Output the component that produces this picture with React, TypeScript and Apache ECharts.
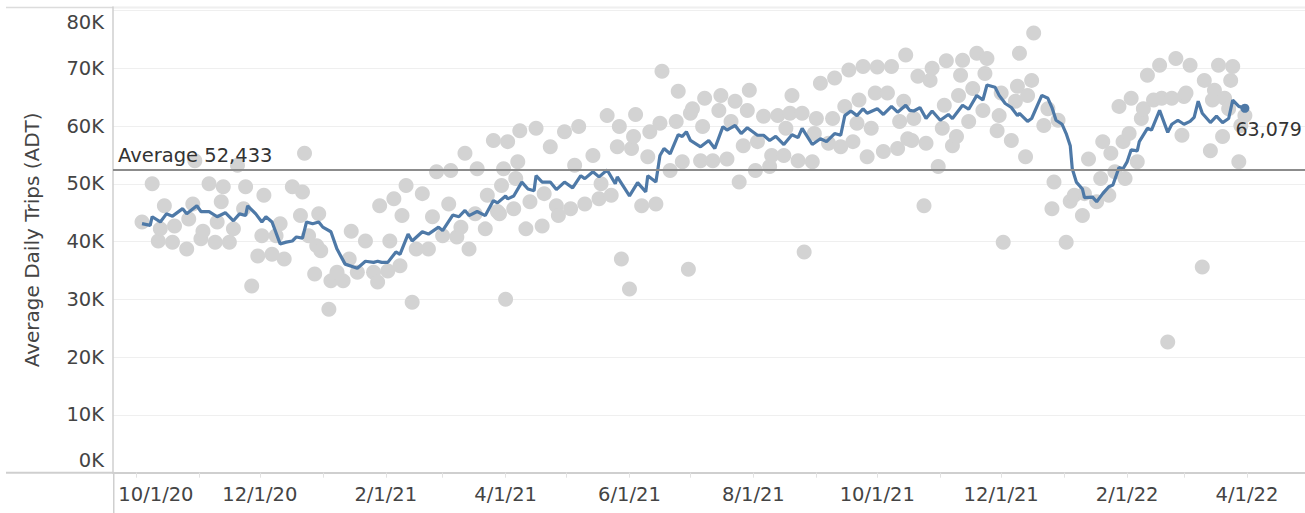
import React, { useEffect, useRef } from "react";
import * as echarts from "echarts";

// Blue line: rolling average of daily trips
const lineDates = [
  "2020-10-04","2020-10-08","2020-10-09","2020-10-13","2020-10-16","2020-10-19","2020-10-24","2020-10-26","2020-10-31",
  "2020-11-02","2020-11-06","2020-11-10","2020-11-14","2020-11-18","2020-11-21","2020-11-24","2020-11-25","2020-11-29",
  "2020-12-02","2020-12-04","2020-12-07","2020-12-11","2020-12-14","2020-12-17","2020-12-19","2020-12-22","2020-12-24","2020-12-27","2020-12-30",
  "2021-01-01","2021-01-05","2021-01-08","2021-01-12","2021-01-18","2021-01-22","2021-01-26","2021-01-28","2021-01-30",
  "2021-02-02","2021-02-06","2021-02-08","2021-02-12","2021-02-14","2021-02-19","2021-02-22","2021-02-27",
  "2021-03-01","2021-03-06","2021-03-09","2021-03-12","2021-03-14","2021-03-18","2021-03-22","2021-03-26","2021-03-28",
  "2021-04-01","2021-04-02","2021-04-05","2021-04-09","2021-04-12","2021-04-15","2021-04-16","2021-04-19","2021-04-23","2021-04-26","2021-04-30",
  "2021-05-04","2021-05-08","2021-05-10","2021-05-14","2021-05-17","2021-05-21","2021-05-25","2021-05-26",
  "2021-06-01","2021-06-05","2021-06-09","2021-06-10","2021-06-14","2021-06-16","2021-06-18","2021-06-21","2021-06-25","2021-06-27","2021-06-29",
  "2021-07-01","2021-07-06","2021-07-10","2021-07-13","2021-07-17","2021-07-19","2021-07-23","2021-07-26","2021-07-29",
  "2021-08-03","2021-08-06","2021-08-09","2021-08-12","2021-08-16","2021-08-20","2021-08-23","2021-08-25","2021-08-30",
  "2021-09-03","2021-09-06","2021-09-10","2021-09-13","2021-09-15","2021-09-18","2021-09-21","2021-09-24","2021-09-26",
  "2021-10-01","2021-10-04","2021-10-08","2021-10-11","2021-10-15","2021-10-17","2021-10-19","2021-10-22","2021-10-25","2021-10-28",
  "2021-11-01","2021-11-05","2021-11-07","2021-11-12","2021-11-15","2021-11-19","2021-11-22","2021-11-24","2021-11-28","2021-11-30",
  "2021-12-03","2021-12-06","2021-12-09","2021-12-10","2021-12-14","2021-12-16","2021-12-21","2021-12-24","2021-12-26","2021-12-28","2021-12-31",
  "2022-01-02","2022-01-04","2022-01-05","2022-01-07","2022-01-10","2022-01-11","2022-01-15","2022-01-17","2022-01-20","2022-01-23","2022-01-25","2022-01-28","2022-01-30",
  "2022-02-01","2022-02-03","2022-02-06","2022-02-07","2022-02-11","2022-02-13","2022-02-17","2022-02-21","2022-02-23","2022-02-26",
  "2022-03-01","2022-03-04","2022-03-06","2022-03-08","2022-03-10","2022-03-14","2022-03-17","2022-03-20","2022-03-23","2022-03-25","2022-03-28","2022-03-31",
];
const lineValues = [
  43100,42800,44300,43400,44800,44400,45700,44800,46200,
  45200,45200,44300,45000,43600,44800,44500,46200,44800,
  43400,44300,43400,39600,39900,40100,40800,40600,43400,43100,43400,
  42500,41700,38700,36100,35400,36600,36400,36600,36400,
  36400,38200,37800,41300,40100,41700,41300,42500,
  41900,44600,44300,45400,44500,45200,44500,47100,46700,
  47900,47400,47900,50300,49100,48800,51400,50300,50300,49000,50300,
  49300,51400,50900,52100,51200,52400,50000,51200,
  47900,50200,48600,51400,50300,54900,56100,55200,58500,58200,59000,
  57500,56400,57500,56100,59900,59300,60100,58700,59700,
  58400,58400,57500,58200,56800,58500,58000,59600,56800,
  57800,57300,58700,58400,61800,62600,61800,63000,62200,
  63000,62000,63400,62400,63600,62700,62600,63200,61300,62600,
  61000,62000,61300,63600,62900,65300,64500,67100,66700,65300,
  63900,63200,61800,62200,60800,61300,65300,64800,63200,61000,60300,
  58700,56600,52600,50300,49100,47600,47700,46900,48300,49500,49800,52800,52600,
  53800,55900,55700,57300,59600,59300,62700,58900,60300,61000,
  60300,60800,61500,64300,62200,60600,61700,60600,61300,64500,63400,63079,
];

// Grey dots: daily trips
const dotDates = [
  "2020-10-04","2020-10-09","2020-10-12","2020-10-13","2020-10-15","2020-10-19","2020-10-20","2020-10-26","2020-10-27","2020-10-29","2020-10-30",
  "2020-11-02","2020-11-03","2020-11-06","2020-11-09","2020-11-10","2020-11-12","2020-11-13","2020-11-16","2020-11-18","2020-11-20","2020-11-23","2020-11-24","2020-11-27","2020-11-30",
  "2020-12-02","2020-12-03","2020-12-07","2020-12-09","2020-12-11","2020-12-13","2020-12-17","2020-12-21","2020-12-22","2020-12-23","2020-12-25","2020-12-28","2020-12-29","2020-12-30","2020-12-31",
  "2021-01-04","2021-01-05","2021-01-08","2021-01-11","2021-01-14","2021-01-15","2021-01-18","2021-01-22","2021-01-26","2021-01-28","2021-01-29",
  "2021-02-02","2021-02-03","2021-02-05","2021-02-08","2021-02-09","2021-02-11","2021-02-14","2021-02-16","2021-02-19","2021-02-22","2021-02-24","2021-02-26",
  "2021-03-01","2021-03-04","2021-03-05","2021-03-08","2021-03-10","2021-03-12","2021-03-14","2021-03-17","2021-03-18","2021-03-22","2021-03-23","2021-03-26","2021-03-28","2021-03-29","2021-03-30","2021-03-31",
  "2021-04-01","2021-04-02","2021-04-05","2021-04-06","2021-04-07","2021-04-08","2021-04-11","2021-04-13","2021-04-16","2021-04-19","2021-04-20","2021-04-23","2021-04-26","2021-04-27","2021-04-30",
  "2021-05-03","2021-05-05","2021-05-07","2021-05-10","2021-05-14","2021-05-17","2021-05-18","2021-05-21","2021-05-23","2021-05-26","2021-05-27","2021-05-28",
  "2021-06-01","2021-06-02","2021-06-03","2021-06-04","2021-06-07","2021-06-10","2021-06-11","2021-06-14","2021-06-16","2021-06-17","2021-06-21","2021-06-24","2021-06-25","2021-06-27","2021-06-30",
  "2021-07-01","2021-07-02","2021-07-06","2021-07-07","2021-07-08","2021-07-12","2021-07-15","2021-07-16","2021-07-19","2021-07-21","2021-07-23","2021-07-25","2021-07-27","2021-07-29","2021-07-30",
  "2021-08-02","2021-08-03","2021-08-06","2021-08-09","2021-08-10","2021-08-13","2021-08-16","2021-08-17","2021-08-19","2021-08-20","2021-08-23","2021-08-25","2021-08-26","2021-08-30","2021-08-31",
  "2021-09-01","2021-09-03","2021-09-07","2021-09-09","2021-09-10","2021-09-13","2021-09-15","2021-09-17","2021-09-19","2021-09-21","2021-09-22","2021-09-24","2021-09-26","2021-09-28","2021-09-30",
  "2021-10-01","2021-10-04","2021-10-06","2021-10-08","2021-10-11","2021-10-12","2021-10-14","2021-10-15","2021-10-16","2021-10-18","2021-10-19","2021-10-21","2021-10-24","2021-10-25","2021-10-27","2021-10-28","2021-10-31",
  "2021-11-02","2021-11-03","2021-11-04","2021-11-07","2021-11-09","2021-11-10","2021-11-11","2021-11-12","2021-11-15","2021-11-17","2021-11-19","2021-11-22","2021-11-23","2021-11-24","2021-11-29","2021-11-30",
  "2021-12-01","2021-12-02","2021-12-06","2021-12-08","2021-12-09","2021-12-10","2021-12-13","2021-12-14","2021-12-16","2021-12-17","2021-12-22","2021-12-24","2021-12-26","2021-12-27","2021-12-29",
  "2022-01-02","2022-01-04","2022-01-06","2022-01-10","2022-01-11","2022-01-13","2022-01-17","2022-01-19","2022-01-20","2022-01-23","2022-01-24","2022-01-26","2022-01-28","2022-01-30","2022-01-31",
  "2022-02-02","2022-02-03","2022-02-06","2022-02-08","2022-02-09","2022-02-11","2022-02-14","2022-02-17","2022-02-18","2022-02-21","2022-02-23","2022-02-25","2022-02-28",
  "2022-03-01","2022-03-02","2022-03-04","2022-03-10","2022-03-11","2022-03-14","2022-03-15","2022-03-16","2022-03-18","2022-03-20","2022-03-21","2022-03-23","2022-03-24","2022-03-25","2022-03-28","2022-03-29","2022-03-31",
];
const dotValues = [
  43400,50000,40100,42200,46200,39900,42700,38700,43900,46500,54000,
  40500,41800,50000,39900,43400,46900,49500,39900,42200,53200,45700,49500,32300,37500,
  41000,48000,37800,41000,43100,37000,49500,44500,48600,55300,41000,34400,39300,44800,38400,
  28300,33200,34700,33200,37000,41800,34700,40100,34700,33000,46200,
  34900,40100,47400,35800,44500,49700,29500,38700,48300,38700,44300,52100,
  41000,46500,52300,40800,42500,55300,38700,44800,52600,42200,48000,57500,45200,44800,49700,52600,
  30000,57300,45700,50900,53800,59200,42200,46900,59600,42700,48300,56400,46200,44500,59000,
  45700,53200,59900,46500,54900,47400,50000,61800,48000,56400,59900,37000,
  31800,56100,58200,62000,46200,54700,59000,46500,60500,69500,52300,60800,66000,53800,35200,
  62200,63000,54000,59900,64800,54000,62700,65300,54300,60800,64300,50300,56600,62700,66200,
  52300,57300,61700,53000,54900,61800,54900,59600,62200,65300,54000,62200,38200,53800,58700,
  61300,67400,57000,61300,68300,56400,63400,69700,57300,60500,64500,70300,54700,59600,65700,
  70200,55600,65700,70300,56100,60800,64300,72300,57800,57500,61300,68600,46200,57000,67900,70000,53000,
  59600,63600,71300,56600,58200,65300,68800,71400,60800,66500,72600,62700,69100,71700,59200,61800,
  65700,39900,57500,64300,66900,72600,54700,65300,67900,76100,60100,63000,45700,50300,61000,
  39900,47000,48000,44500,48300,54300,46900,50900,57300,48000,55300,52100,63400,57300,50900,
  58700,64800,53800,61300,63000,68800,64500,70500,64800,22600,64800,71700,58400,
  65100,65700,70500,35600,67900,55700,64500,66200,70500,58200,64800,63000,67900,70300,53800,60100,61800,
];

const averageValue = 52433;
const yAxisTitle = "Average Daily Trips (ADT)";
const xStart = "2020-09-19T17:00";
const xEnd = "2022-04-29T14:00";

const FONT = "'DejaVu Sans', sans-serif";
const TEXT = "#444";

function ts(s: string): number {
  const [datePart, timePart] = s.split("T");
  const [y, m, d] = datePart.split("-").map(Number);
  const [hh, mm] = timePart ? timePart.split(":").map(Number) : [0, 0];
  return new Date(y, m - 1, d, hh, mm).getTime();
}

export default function App() {
  const ref = useRef<HTMLDivElement>(null);

  useEffect(() => {
    document.body.style.margin = "0";
    const chart = echarts.init(ref.current as HTMLDivElement, null, { renderer: "svg" });
    const DAY = 86400000;
    const last = lineDates.length - 1;

    const lineData: any[] = lineDates.map((d, i) => {
      if (i === last) {
        return {
          value: [ts(d), lineValues[i]],
          symbol: "circle",
          symbolSize: 9,
          label: {
            show: true,
            position: "right",
            distance: 0,
            offset: [-14, 21],
            formatter: () => lineValues[i].toLocaleString("en-US"),
            fontSize: 19,
            color: "#333",
            fontFamily: FONT,
          },
        };
      }
      return [ts(d), lineValues[i]];
    });
    const dotData = dotDates.map((d, i) => [ts(d), dotValues[i]]);

    const option: any = {
      animation: false,
      grid: { left: 113, right: 0, top: 7, bottom: 40.3 },
      xAxis: {
        type: "time",
        min: ts(xStart),
        max: ts(xEnd),
        minInterval: 28 * DAY,
        maxInterval: 31 * DAY,
        splitNumber: 20,
        axisLine: { show: true, lineStyle: { color: "#cfcfcf", width: 2 } },
        axisTick: { show: true, length: 5, lineStyle: { color: "#e2e2e2", width: 1 } },
        splitLine: { show: false },
        axisLabel: {
          margin: 12,
          fontSize: 19.5,
          color: TEXT,
          fontFamily: FONT,
          hideOverlap: false,
          formatter: (val: number) => {
            const d = new Date(val);
            if (d.getDate() !== 1 || d.getHours() !== 0 || d.getMonth() % 2 === 0) return "";
            const txt = `${d.getMonth() + 1}/1/${d.getFullYear() % 100}`;
            if (d.getFullYear() === 2020 && d.getMonth() === 9) return `{f|${txt}}`;
            return txt;
          },
          rich: {
            f: { padding: [0, 0, 0, 40], fontSize: 19.5, color: TEXT, fontFamily: FONT },
          },
        },
      },
      yAxis: {
        type: "value",
        min: 0,
        max: 80600,
        interval: 10000,
        name: yAxisTitle,
        nameLocation: "middle",
        nameGap: 71,
        nameTextStyle: { fontSize: 20, color: TEXT, fontFamily: FONT },
        axisLine: { show: true, lineStyle: { color: "#cfcfcf", width: 1.5 } },
        axisTick: { show: false },
        splitLine: { show: true, lineStyle: { color: "#efefef", width: 1 } },
        axisLabel: {
          margin: 9,
          fontSize: 19.5,
          color: TEXT,
          fontFamily: FONT,
          showMaxLabel: true,
          formatter: (v: number) => {
            if (v % 10000 !== 0) return "";
            const t = `${v / 1000}K`;
            if (v === 80000) return `{t|${t}}`;
            if (v === 0) return `{b|${t}}`;
            return t;
          },
          rich: {
            t: { padding: [25, 0, 0, 0], fontSize: 19.5, color: TEXT, fontFamily: FONT },
            b: { padding: [0, 0, 25, 0], fontSize: 19.5, color: TEXT, fontFamily: FONT },
          },
        },
      },
      graphic: [
        { type: "line", silent: true, shape: { x1: 6, y1: 7.5, x2: 1305, y2: 7.5 }, style: { stroke: "#dcdcdc", lineWidth: 1.5 } },
        { type: "line", silent: true, shape: { x1: 6, y1: 472.7, x2: 113, y2: 472.7 }, style: { stroke: "#cfcfcf", lineWidth: 2 } },
        { type: "line", silent: true, shape: { x1: 113.75, y1: 472, x2: 113.75, y2: 513 }, style: { stroke: "#cfcfcf", lineWidth: 1.5 } },
      ],
      series: [
        {
          type: "scatter",
          data: dotData,
          symbolSize: 15,
          itemStyle: { color: "#d3d3d3", opacity: 1 },
          z: 2,
          silent: true,
        },
        {
          type: "line",
          data: lineData,
          symbol: "none",
          showSymbol: true,
          lineStyle: { color: "#4e79a7", width: 3.2 },
          itemStyle: { color: "#4e79a7" },
          z: 3,
          silent: true,
          markLine: {
            silent: true,
            symbol: ["none", "none"],
            lineStyle: { color: "#8c8c8c", width: 2, type: "solid" },
            label: {
              show: true,
              position: "insideStartTop",
              distance: [5, 4],
              formatter: () => `Average ${averageValue.toLocaleString("en-US")}`,
              fontSize: 19.5,
              color: "#333",
              fontFamily: FONT,
            },
            data: [{ yAxis: averageValue }],
          },
        },
      ],
    };

    chart.setOption(option);
    return () => chart.dispose();
  }, []);

  return (
    <div
      ref={ref}
      style={{ position: "absolute", left: 0, top: 0, width: 1305, height: 513 }}
    />
  );
}
